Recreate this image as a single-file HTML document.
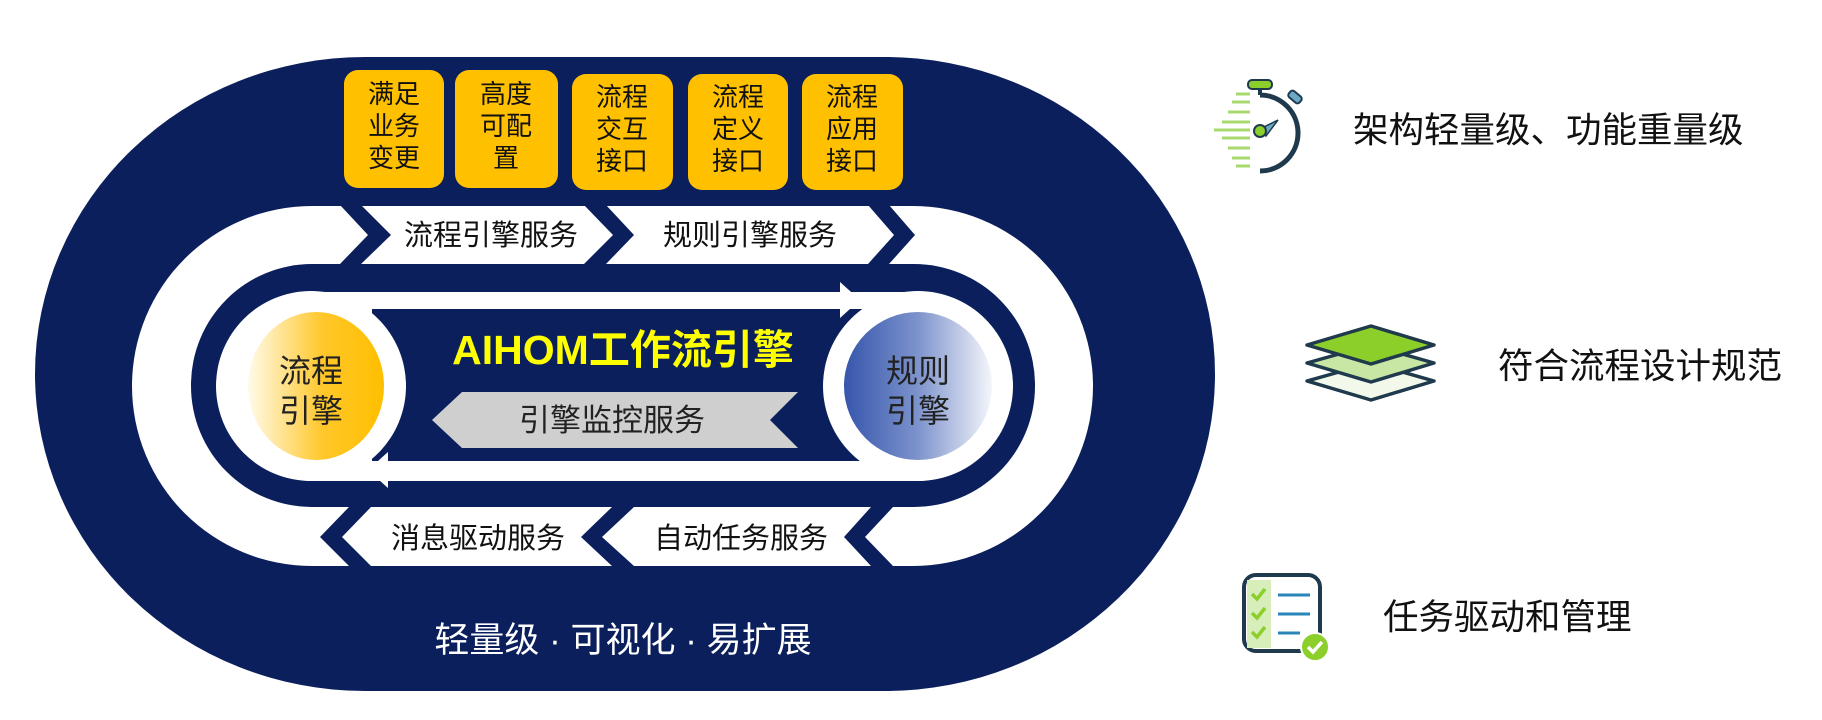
<!DOCTYPE html>
<html><head><meta charset="utf-8"><style>
html,body{margin:0;padding:0;background:#fff;}
svg{display:block;}
text{font-family:"Liberation Sans","Noto Sans CJK SC",sans-serif;}
</style></head><body>
<svg width="1822" height="720" viewBox="0 0 1822 720" xmlns="http://www.w3.org/2000/svg">
<defs>
<linearGradient id="gy" x1="0" y1="0" x2="1" y2="0">
<stop offset="0" stop-color="#fffbea"/><stop offset="0.55" stop-color="#ffc72a"/><stop offset="1" stop-color="#ffbf00"/>
</linearGradient>
<linearGradient id="gb" x1="0" y1="0" x2="1" y2="0">
<stop offset="0" stop-color="#3656ac"/><stop offset="0.5" stop-color="#7d93cc"/><stop offset="1" stop-color="#f4f6fb"/>
</linearGradient>
</defs>
<rect x="35" y="57" width="1180" height="634" rx="330" ry="317" fill="#0b1f5c"/>
<g fill="#ffc000">
<rect x="344" y="70" width="100" height="118" rx="14"/>
<rect x="455" y="70" width="103" height="118" rx="14"/>
<rect x="572" y="74" width="101" height="116" rx="14"/>
<rect x="688" y="74" width="100" height="116" rx="14"/>
<rect x="802" y="74" width="101" height="116" rx="14"/>
</g>
<g font-size="26" fill="#111" text-anchor="middle">
<text x="394" y="103">满足</text><text x="394" y="135">业务</text><text x="394" y="167">变更</text>
<text x="506" y="103">高度</text><text x="506" y="135">可配</text><text x="506" y="167">置</text>
<text x="622" y="106">流程</text><text x="622" y="138">交互</text><text x="622" y="170">接口</text>
<text x="738" y="106">流程</text><text x="738" y="138">定义</text><text x="738" y="170">接口</text>
<text x="852" y="106">流程</text><text x="852" y="138">应用</text><text x="852" y="170">接口</text>
</g>
<rect x="132" y="206" width="961" height="360" rx="180" ry="180" fill="#fff"/>
<rect x="191" y="264" width="844" height="243" rx="121" ry="121" fill="#0b1f5c"/>
<g fill="#0b1f5c">
<polygon points="340,205 361,205 391,235 361,264 340,264 368,235"/>
<polygon points="584,205 606,205 634,235 606,264 584,264 613,235"/>
<polygon points="868,205 889,205 915,235 889,264 868,264 894,235"/>
<polygon points="349,507 371,507 342,537 371,566 349,566 320,537"/>
<polygon points="612,507 634,507 602,537 634,566 612,566 581,537"/>
<polygon points="871,507 893,507 865,537 893,566 871,566 844,537"/>
</g>
<g font-size="29" fill="#111" text-anchor="middle">
<text x="491" y="245">流程引擎服务</text>
<text x="750" y="245">规则引擎服务</text>
<text x="478" y="548">消息驱动服务</text>
<text x="741" y="548">自动任务服务</text>
</g>
<rect x="218" y="292" width="794" height="189" rx="95" ry="95" fill="#fff"/>
<rect x="372" y="309" width="490" height="152" fill="#0b1f5c"/>
<polygon points="840,282 860,300 840,318" fill="#fff"/>
<polygon points="388,452 368,470 388,488" fill="#fff"/>
<circle cx="311" cy="386" r="95" fill="#fff"/>
<ellipse cx="316" cy="386" rx="68" ry="74" fill="url(#gy)"/>
<circle cx="918" cy="386" r="95" fill="#fff"/>
<ellipse cx="918" cy="386" rx="74" ry="74" fill="url(#gb)"/>
<g font-size="32" fill="#222" text-anchor="middle">
<text x="311" y="382">流程</text><text x="311" y="422">引擎</text>
<text x="918" y="382">规则</text><text x="918" y="422">引擎</text>
</g>
<text x="623" y="364" font-size="41" font-weight="bold" fill="#ffff00" text-anchor="middle">AIHOM工作流引擎</text>
<polygon points="432,420 462,392 798,392 770,420 798,448 462,448" fill="#d0cfd0"/>
<text x="612" y="431" font-size="31" fill="#222" text-anchor="middle">引擎监控服务</text>
<text x="623" y="652" font-size="35" fill="#fff" text-anchor="middle">轻量级 · 可视化 · 易扩展</text>
<g>
<g stroke="#a9d86e" stroke-width="3">
<line x1="1214" y1="130" x2="1250" y2="130"/><line x1="1222" y1="122" x2="1250" y2="122"/><line x1="1222" y1="138" x2="1250" y2="138"/>
<line x1="1228" y1="112" x2="1250" y2="112"/><line x1="1228" y1="148" x2="1250" y2="148"/>
<line x1="1232" y1="102" x2="1250" y2="102"/><line x1="1232" y1="158" x2="1250" y2="158"/>
<line x1="1236" y1="94" x2="1250" y2="94"/><line x1="1236" y1="166" x2="1250" y2="166"/>
</g>
<path d="M1260 95 A38 38 0 1 1 1260 171" fill="none" stroke="#1f3a4d" stroke-width="5"/>
<rect x="1248" y="80" width="24" height="9" rx="4" fill="#8ccf2a" stroke="#1f3a4d" stroke-width="2"/>
<line x1="1260" y1="89" x2="1260" y2="95" stroke="#1f3a4d" stroke-width="4"/>
<rect x="1288" y="93" width="14" height="8" rx="3" transform="rotate(40 1295 97)" fill="#6aa8c6" stroke="#1f3a4d" stroke-width="2"/>
<polygon points="1262,128 1278,120 1266,136" fill="#6aa8c6" stroke="#1f3a4d" stroke-width="1.5"/>
<circle cx="1260" cy="131" r="6" fill="#8ccf2a" stroke="#1f3a4d" stroke-width="2"/>
</g>
<text x="1353" y="142" font-size="35.5" fill="#111">架构轻量级、功能重量级</text>
<g stroke="#1f3a4d" stroke-width="3.5" stroke-linejoin="round">
<polygon points="1307,381 1371,363 1434,381 1371,400" fill="#f3f9ea"/>
<polygon points="1307,363 1371,345 1434,363 1371,382" fill="#c8e6a4"/>
<polygon points="1307,345 1371,326 1434,345 1371,364" fill="#8ccf2a"/>
</g>
<text x="1498" y="378" font-size="35.5" fill="#111">符合流程设计规范</text>
<rect x="1244" y="575" width="76" height="76" rx="12" fill="#fff" stroke="#1f3a4d" stroke-width="4"/>
<rect x="1247" y="580" width="24" height="68" fill="#d7eebb"/>
<g stroke="#8ccf2a" stroke-width="3.5" fill="none">
<polyline points="1252,594 1257,599 1265,589"/><polyline points="1252,613 1257,618 1265,608"/><polyline points="1252,632 1257,637 1265,627"/>
</g>
<g stroke="#2a86b8" stroke-width="3">
<line x1="1278" y1="595" x2="1310" y2="595"/><line x1="1278" y1="614" x2="1310" y2="614"/><line x1="1278" y1="633" x2="1300" y2="633"/>
</g>
<circle cx="1315" cy="647" r="14" fill="#8ccf2a" stroke="#fff" stroke-width="2"/>
<polyline points="1308,647 1313,652 1322,642" fill="none" stroke="#fff" stroke-width="3.5"/>
<text x="1383" y="629" font-size="35.5" fill="#111">任务驱动和管理</text>
</svg>
</body></html>
